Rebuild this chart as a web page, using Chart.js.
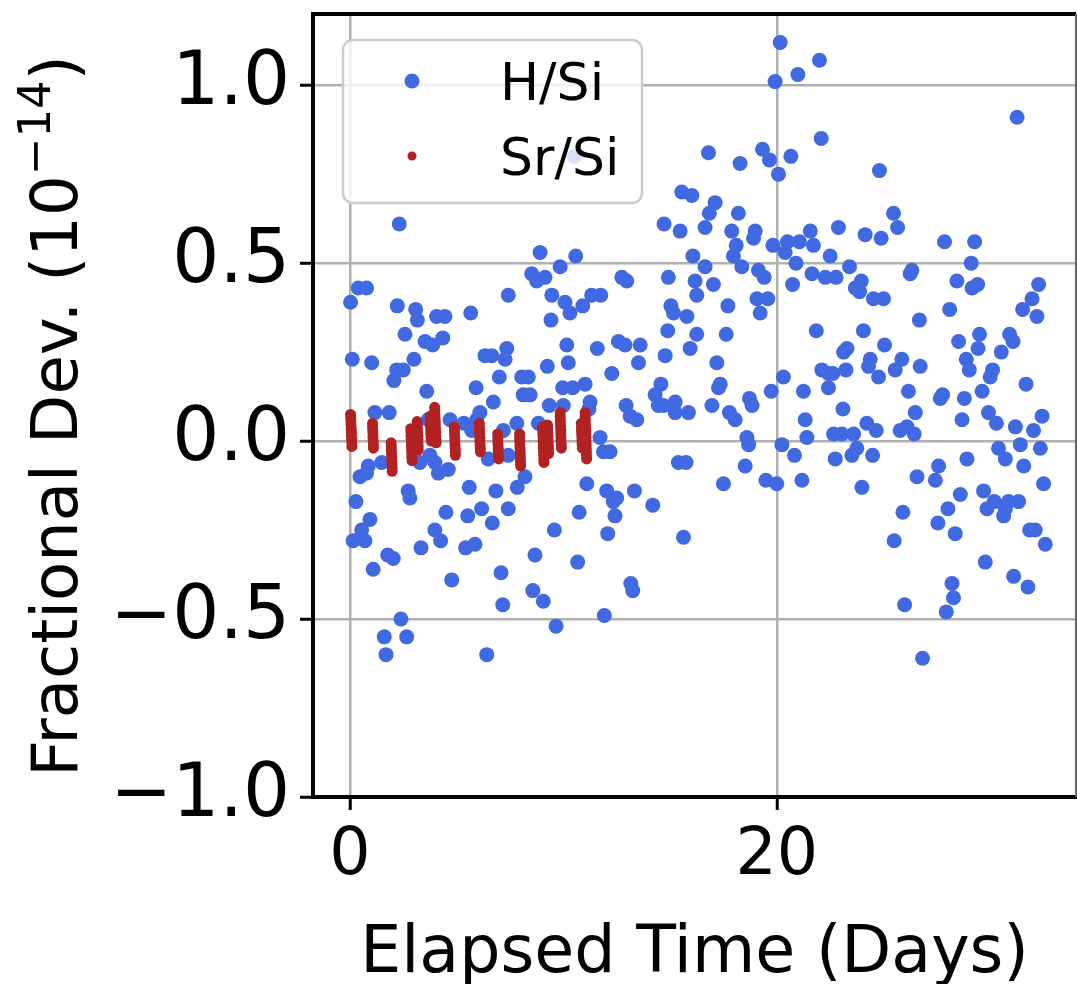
<!DOCTYPE html>
<html>
<head>
<meta charset="utf-8">
<script src="https://cdn.jsdelivr.net/npm/chart.js@4.4.1/dist/chart.umd.min.js"></script>
<style>
  html, body { margin: 0; padding: 0; background: #fff; }
  #c { display: block; }
</style>
</head>
<body>
<canvas id="c" width="1077" height="984"></canvas>
<script>
// H/Si : [elapsed days, fractional deviation (1e-14)]
const hSi = [
  [2.31,0.61],[10.52,0.80],[15.55,0.70],[16.02,0.69],[14.72,0.61],[15.47,0.59],
  [20.16,1.12],[22.00,1.07],[20.99,1.03],[19.92,1.01],[22.08,0.85],[16.80,0.81],[19.33,0.82],
  [18.28,0.78],[19.66,0.79],[20.66,0.80],[20.08,0.75],[24.81,0.76],[17.11,0.67],[16.84,0.64],
  [18.20,0.64],[16.64,0.60],[17.89,0.59],[18.99,0.59],[18.91,0.57],[21.57,0.59],[22.89,0.60],
  [24.14,0.58],[24.89,0.57],[18.10,0.55],[19.82,0.55],[20.50,0.56],[21.06,0.56],[21.72,0.55],
  [31.26,0.91],[25.47,0.64],[25.66,0.60],[27.86,0.56],[29.27,0.56],
  [0.39,0.43],[0.78,0.43],[0.03,0.39],[2.22,0.38],[3.08,0.37],[3.16,0.34],[4.06,0.35],[4.45,0.35],
  [5.66,0.36],[7.42,0.41],[2.58,0.30],[3.52,0.28],[3.88,0.27],[4.35,0.29],[0.11,0.23],[1.02,0.22],
  [3.00,0.23],[2.19,0.20],[2.50,0.20],[2.06,0.17],[6.33,0.24],[6.64,0.24],[7.35,0.26],[7.27,0.23],
  [7.00,0.18],[5.91,0.15],[3.60,0.14],[6.72,0.11],[1.17,0.08],[1.84,0.08],[6.09,0.08],[5.94,0.06],
  [5.34,0.05],[4.69,0.06],[3.67,0.06],[5.71,0.03],[7.19,0.03],[0.86,-0.07],[1.49,-0.06],[3.75,-0.04],
  [3.98,-0.06],[3.28,-0.06],[4.61,-0.08],[6.48,-0.05],[7.42,-0.04],
  [8.91,0.53],[10.58,0.52],[16.07,0.52],[9.85,0.49],[8.52,0.47],[8.75,0.45],[9.14,0.46],[9.46,0.41],
  [10.08,0.39],[10.31,0.36],[10.91,0.38],[11.33,0.41],[11.75,0.41],[9.42,0.34],[12.74,0.46],[12.97,0.45],
  [14.92,0.46],[16.17,0.45],[16.25,0.41],[15.04,0.38],[15.16,0.36],[15.79,0.35],[14.89,0.31],[16.25,0.30],
  [15.94,0.26],[10.16,0.27],[11.59,0.26],[12.58,0.28],[12.89,0.27],[13.60,0.27],[14.77,0.24],[13.52,0.22],
  [10.23,0.22],[9.25,0.21],[8.05,0.18],[8.36,0.18],[8.12,0.13],[8.44,0.13],[12.27,0.19],[9.97,0.15],
  [10.44,0.15],[11.02,0.16],[11.25,0.11],[9.34,0.10],[10.00,0.10],[11.20,0.09],[7.82,0.05],[8.83,0.05],
  [11.72,0.01],[11.88,-0.03],[12.19,-0.03],[12.94,0.10],[13.13,0.07],[13.44,0.06],[14.57,0.16],[14.30,0.13],
  [14.45,0.10],[14.69,0.10],[15.24,0.11],[15.24,0.08],[15.86,0.08],[15.39,-0.06],[15.75,-0.06],
  [17.97,0.52],[16.64,0.49],[18.36,0.49],[19.14,0.48],[19.41,0.46],[20.39,0.53],[20.90,0.50],[21.65,0.47],
  [22.27,0.46],[22.78,0.46],[22.50,0.52],[23.41,0.49],[23.96,0.45],[23.68,0.43],[23.88,0.42],[24.53,0.40],
  [25.00,0.40],[17.03,0.44],[20.74,0.44],[17.71,0.38],[19.07,0.40],[19.58,0.40],[19.22,0.36],[17.63,0.30],
  [21.85,0.31],[24.06,0.31],[25.05,0.27],[23.29,0.26],[23.13,0.25],[24.38,0.23],[24.30,0.21],[24.77,0.18],
  [17.19,0.22],[22.11,0.20],[22.42,0.19],[22.63,0.19],[23.24,0.20],[20.31,0.18],[22.42,0.15],[17.35,0.16],
  [17.27,0.15],[19.74,0.14],[21.25,0.14],[18.72,0.12],[18.84,0.10],[16.96,0.10],[17.78,0.08],[18.05,0.06],
  [23.10,0.09],[21.33,0.06],[24.22,0.05],[24.66,0.03],[22.66,0.02],[23.05,0.02],[23.60,0.02],[18.60,0.01],
  [18.68,-0.01],[21.41,0.01],[20.24,-0.01],[20.83,-0.04],[22.74,-0.05],[23.52,-0.04],[23.75,-0.02],
  [24.49,-0.04],[18.52,-0.07],
  [29.11,0.50],[26.33,0.48],[26.25,0.47],[28.44,0.45],[29.15,0.43],[29.41,0.44],[32.27,0.44],[31.96,0.40],
  [31.52,0.37],[32.19,0.35],[28.10,0.37],[26.68,0.34],[28.52,0.28],[29.50,0.30],[29.43,0.26],[30.91,0.30],
  [31.07,0.28],[30.52,0.25],[28.88,0.23],[29.02,0.20],[30.11,0.20],[30.00,0.18],[25.86,0.23],[25.55,0.20],
  [26.72,0.21],[31.68,0.16],[26.17,0.14],[27.77,0.13],[27.66,0.12],[28.79,0.12],[29.62,0.14],[26.49,0.08],
  [28.68,0.06],[29.92,0.08],[30.29,0.05],[31.18,0.04],[32.03,0.03],[32.43,0.07],[25.78,0.03],[26.10,0.04],
  [26.44,0.02],[31.41,-0.01],[32.35,-0.02],[30.39,-0.02],[30.71,-0.05],[28.91,-0.05],[27.58,-0.07],[31.57,-0.07],
  [0.47,-0.10],[0.78,-0.09],[2.73,-0.14],[2.81,-0.16],[0.28,-0.17],[0.94,-0.22],[0.55,-0.25],[0.15,-0.28],
  [0.70,-0.28],[1.77,-0.32],[2.03,-0.33],[1.09,-0.36],[3.33,-0.30],[3.98,-0.25],[4.25,-0.28],[4.50,-0.20],
  [4.14,-0.09],[5.59,-0.13],[6.84,-0.14],[7.42,-0.19],[5.52,-0.21],[6.17,-0.19],[6.67,-0.23],[5.42,-0.30],
  [5.86,-0.29],[4.77,-0.39],[7.08,-0.37],[7.16,-0.46],[2.39,-0.50],[1.61,-0.55],[2.66,-0.55],[1.69,-0.60],
  [6.41,-0.60],
  [8.20,-0.10],[7.84,-0.13],[11.10,-0.12],[12.03,-0.14],[12.50,-0.16],[12.34,-0.17],[13.33,-0.14],[14.19,-0.18],
  [10.74,-0.20],[12.42,-0.21],[9.58,-0.25],[12.08,-0.26],[15.63,-0.27],[8.67,-0.32],[10.67,-0.34],[13.16,-0.40],
  [13.25,-0.42],[8.57,-0.42],[9.06,-0.45],[11.92,-0.49],[9.66,-0.52],
  [17.50,-0.12],[19.49,-0.11],[20.00,-0.12],[21.18,-0.11],[23.99,-0.13],
  [26.57,-0.10],[27.43,-0.11],[32.50,-0.12],[28.60,-0.15],[29.69,-0.14],[30.19,-0.17],[30.86,-0.17],[31.33,-0.17],
  [29.85,-0.19],[30.71,-0.19],[30.63,-0.21],[25.91,-0.20],[28.02,-0.19],[27.55,-0.23],[28.36,-0.26],[31.85,-0.25],
  [32.11,-0.25],[32.58,-0.29],[25.50,-0.28],[29.77,-0.34],[31.10,-0.38],[31.77,-0.41],[28.21,-0.40],[28.28,-0.44],
  [27.94,-0.48],[25.99,-0.46],[26.83,-0.61]
];

// Sr/Si : dense short runs, one streak per measurement day
const srSi = [
  [0.03,0.075],[0.04,0.065],[0.05,0.055],[0.05,0.045],[0.06,0.035],[0.07,0.025],[0.07,0.015],[0.08,0.005],[0.09,-0.005],[0.09,-0.015],
  [1.06,0.05],[1.06,0.04],[1.07,0.03],[1.08,0.02],[1.08,0.01],[1.09,0.00],[1.10,-0.01],[1.10,-0.02],
  [1.93,-0.005],[1.94,-0.015],[1.94,-0.025],[1.95,-0.035],[1.96,-0.045],[1.96,-0.055],[1.97,-0.065],[1.98,-0.075],[1.98,-0.085],
  [2.85,0.035],[2.86,0.025],[2.86,0.015],[2.87,0.005],[2.88,-0.005],[2.88,-0.015],[2.89,-0.025],[2.90,-0.035],[2.90,-0.045],[2.91,-0.055],
  [3.15,0.055],[3.16,0.045],[3.16,0.035],[3.17,0.025],[3.18,0.015],[3.18,0.005],[3.19,-0.005],[3.20,-0.015],[3.20,-0.025],
  [3.76,0.07],[3.77,0.06],[3.77,0.05],[3.78,0.04],[3.79,0.03],[3.79,0.02],[3.80,0.01],[3.81,0.00],
  [3.97,0.095],[3.98,0.085],[3.98,0.075],[3.99,0.065],[4.00,0.055],[4.00,0.045],[4.01,0.035],[4.02,0.025],[4.02,0.015],[4.03,0.005],[4.04,-0.005],
  [4.89,0.04],[4.90,0.03],[4.90,0.02],[4.91,0.01],[4.92,0.00],[4.92,-0.01],[4.93,-0.02],[4.94,-0.03],[4.94,-0.04],
  [6.06,0.05],[6.07,0.04],[6.07,0.03],[6.08,0.02],[6.09,0.01],[6.09,0.00],[6.10,-0.01],[6.11,-0.02],[6.11,-0.03],
  [6.92,0.02],[6.93,0.01],[6.93,0.00],[6.94,-0.01],[6.95,-0.02],[6.95,-0.03],[6.96,-0.04],[6.97,-0.05],
  [7.95,0.02],[7.95,0.01],[7.96,0.00],[7.96,-0.01],[7.97,-0.02],[7.98,-0.03],[7.98,-0.04],[7.99,-0.05],[7.99,-0.06],[8.00,-0.07],
  [9.03,0.04],[9.03,0.03],[9.04,0.02],[9.05,0.01],[9.05,0.00],[9.06,-0.01],[9.06,-0.02],[9.07,-0.03],[9.08,-0.04],[9.08,-0.05],[9.09,-0.06],
  [9.26,0.045],[9.27,0.035],[9.27,0.025],[9.28,0.015],[9.28,0.005],[9.29,-0.005],[9.30,-0.015],[9.30,-0.025],[9.31,-0.035],
  [9.85,0.08],[9.85,0.07],[9.86,0.06],[9.86,0.05],[9.87,0.04],[9.88,0.03],[9.88,0.02],[9.89,0.01],[9.89,0.00],[9.90,-0.01],[9.91,-0.02],
  [10.84,0.05],[10.85,0.04],[10.85,0.03],[10.86,0.02],[10.87,0.01],[10.87,0.00],[10.88,-0.01],[10.89,-0.02],
  [11.02,0.08],[11.02,0.07],[11.03,0.06],[11.03,0.05],[11.04,0.04],[11.05,0.03],[11.05,0.02],[11.06,0.01],[11.06,0.00],
  [11.07,-0.01],[11.07,-0.02],[11.08,-0.03],[11.08,-0.04],[11.09,-0.05]
];

const xTicks = [0, 20];
const yTicks = [-1.0, -0.5, 0.0, 0.5, 1.0];
const FONT = 'DejaVu Sans';

// frame: top + right spines (left/bottom come from scale borders)
const framePlugin = {
  id: 'frame',
  afterDraw(chart) {
    const { ctx, chartArea: a } = chart;
    ctx.save();
    ctx.strokeStyle = '#000';
    ctx.lineWidth = 4;
    ctx.beginPath();
    ctx.moveTo(a.left - 2, a.top);
    ctx.lineTo(a.right, a.top);
    ctx.stroke();
    ctx.strokeStyle = '#666';
    ctx.lineWidth = 2;
    ctx.beginPath();
    ctx.moveTo(a.right, a.top);
    ctx.lineTo(a.right, a.bottom);
    ctx.stroke();
    ctx.restore();
  }
};

// legend box in upper-left, matplotlib style
const legendPlugin = {
  id: 'mplLegend',
  afterDatasetsDraw(chart) {
    const { ctx } = chart;
    const x0 = 343, y0 = 40, w = 299, h = 163, r = 10;
    ctx.save();
    ctx.beginPath();
    ctx.roundRect(x0, y0, w, h, r);
    ctx.fillStyle = 'rgba(255,255,255,0.8)';
    ctx.fill();
    ctx.strokeStyle = '#cccccc';
    ctx.lineWidth = 2.5;
    ctx.stroke();
    const rows = [81, 156];
    chart.data.datasets.forEach((ds, i) => {
      ctx.beginPath();
      ctx.arc(412, rows[i], i === 0 ? 7.5 : 4.5, 0, Math.PI * 2);
      ctx.fillStyle = ds.backgroundColor;
      ctx.fill();
      ctx.fillStyle = '#000';
      ctx.font = '52px "' + FONT + '"';
      ctx.textBaseline = 'alphabetic';
      ctx.textAlign = 'left';
      ctx.fillText(ds.label, 500, rows[i] + 19);
    });
    ctx.restore();
  }
};

// rotated y title with superscript exponent
const yTitlePlugin = {
  id: 'yTitle',
  afterDraw(chart) {
    const { ctx } = chart;
    const a = 'Fractional Dev. (10', sup = '\u221214', b = ')';
    ctx.save();
    ctx.translate(77, 416);
    ctx.rotate(-Math.PI / 2);
    ctx.fillStyle = '#000';
    ctx.textBaseline = 'alphabetic';
    ctx.textAlign = 'left';
    ctx.font = '64px "' + FONT + '"';
    const wa = ctx.measureText(a).width, wb = ctx.measureText(b).width;
    ctx.font = '45px "' + FONT + '"';
    const ws = ctx.measureText(sup).width;
    let x = -(wa + ws + wb) / 2;
    ctx.font = '64px "' + FONT + '"';
    ctx.fillText(a, x, 0);
    x += wa;
    ctx.font = '45px "' + FONT + '"';
    ctx.fillText(sup, x, -27);
    x += ws;
    ctx.font = '64px "' + FONT + '"';
    ctx.fillText(b, x, 0);
    ctx.restore();
  }
};

const gridStyle = {
  color: '#b0b0b0',
  lineWidth: 2.5,
  tickColor: '#000',
  tickWidth: 3,
  tickLength: 13
};

// stop Chart.js from reserving room for half tick labels at the ends
function noPad(s) {
  s.paddingLeft = 0;
  s.paddingRight = 0;
  s.paddingTop = 0;
  s.paddingBottom = 0;
}

new Chart(document.getElementById('c'), {
  type: 'scatter',
  data: {
    datasets: [
      {
        label: 'H/Si',
        data: hSi.map(p => ({ x: p[0], y: p[1] })),
        backgroundColor: '#4169E1',
        borderWidth: 0,
        pointRadius: 7.5,
        order: 2
      },
      {
        label: 'Sr/Si',
        data: srSi.map(p => ({ x: p[0], y: p[1] })),
        backgroundColor: '#B22222',
        borderWidth: 0,
        pointRadius: 5.5,
        order: 1
      }
    ]
  },
  options: {
    responsive: false,
    devicePixelRatio: 1,
    animation: false,
    layout: { autoPadding: false, padding: { top: 14, right: 1, left: 0, bottom: 0 } },
    plugins: { legend: { display: false }, tooltip: { enabled: false } },
    scales: {
      x: {
        type: 'linear',
        min: -1.73,
        max: 34.02,
        afterBuildTicks: s => { s.ticks = xTicks.map(v => ({ value: v })); },
        afterFit: s => { s.height = 187; noPad(s); },
        ticks: {
          font: { family: FONT, size: 65 },
          color: '#000',
          padding: 8,
          maxRotation: 0,
          callback: v => String(v)
        },
        grid: gridStyle,
        border: { color: '#000', width: 4 },
        title: {
          display: true,
          text: 'Elapsed Time (Days)',
          color: '#000',
          font: { family: FONT, size: 65 },
          padding: { top: 0, bottom: -10 }
        }
      },
      y: {
        type: 'linear',
        min: -1.0,
        max: 1.2,
        afterBuildTicks: s => { s.ticks = yTicks.map(v => ({ value: v })); },
        afterFit: s => { s.width = 313; noPad(s); },
        ticks: {
          font: { family: FONT, size: 74 },
          color: '#000',
          padding: 10,
          callback: v => (v < 0 ? '\u2212' : '') + Math.abs(v).toFixed(1)
        },
        grid: gridStyle,
        border: { color: '#000', width: 4 }
      }
    }
  },
  plugins: [framePlugin, legendPlugin, yTitlePlugin]
});
</script>
</body>
</html>
